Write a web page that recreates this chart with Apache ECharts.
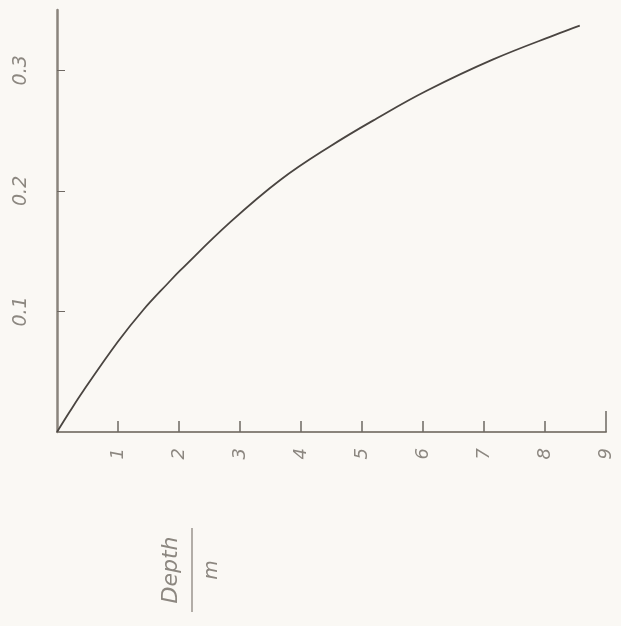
<!DOCTYPE html>
<html>
<head>
<meta charset="utf-8">
<script src="https://cdn.jsdelivr.net/npm/echarts@6/dist/echarts.min.js"></script>
<style>
  html, body { margin: 0; padding: 0; background: #faf8f4; }
  #main { width: 621px; height: 626px; }
</style>
</head>
<body>
<div id="main"></div>
<script>
// depth (m)
const depth = [0, 0.21, 0.43, 1.0, 1.41, 1.83, 2.02, 2.84, 3.66, 4.48, 5.24, 6.06, 7.15, 8.25, 8.57]
// y values
const value = [0, 0.017, 0.034, 0.075, 0.101, 0.124, 0.134, 0.174, 0.209, 0.237, 0.260, 0.283, 0.309, 0.331, 0.337]
const xTicks = [1, 2, 3, 4, 5, 6, 7, 8, 9]
const yTicks = [0.1, 0.2, 0.3]
const xEndTick = [9]

const pencil = '#4a4541'
const faint = '#8c8780'
const handFont = 'DejaVu Sans'

const myChart = echarts.init(document.getElementById('main'))

const option = {
  backgroundColor: '#faf8f4',
  animation: false,
  grid: {
    left: 57,
    right: 15,
    top: 10,
    bottom: 194
  },
  xAxis: [
    {
      type: 'value',
      min: 0,
      max: 9,
      axisLine: { show: true, onZero: false, lineStyle: { color: '#8a847c', width: 2 } },
      axisTick: {
        show: true,
        inside: true,
        length: 11,
        customValues: xTicks,
        lineStyle: { color: '#6e6862', width: 1.5 }
      },
      axisLabel: {
        show: true,
        customValues: xTicks,
        rotate: 90,
        margin: 16,
        color: faint,
        fontSize: 18,
        fontStyle: 'italic',
        fontFamily: handFont,
        fontWeight: 'lighter'
      },
      splitLine: { show: false }
    },
    {
      // the long closing tick at 9
      type: 'value',
      position: 'bottom',
      min: 0,
      max: 9,
      axisLine: { show: false },
      axisTick: {
        show: true,
        inside: true,
        length: 21,
        customValues: xEndTick,
        lineStyle: { color: '#6e6862', width: 1.5 }
      },
      axisLabel: { show: false },
      splitLine: { show: false }
    }
  ],
  yAxis: {
    type: 'value',
    min: 0,
    max: 0.35,
    axisLine: { show: true, onZero: false, lineStyle: { color: '#8a847c', width: 2.5 } },
    axisTick: {
      show: true,
      inside: true,
      length: 8,
      customValues: yTicks,
      lineStyle: { color: '#6e6862', width: 1 }
    },
    axisLabel: {
      show: true,
      customValues: yTicks,
      rotate: 90,
      margin: 26,
      color: faint,
      fontSize: 19,
      fontStyle: 'italic',
      fontFamily: handFont,
      fontWeight: 'lighter',
      formatter: v => v.toFixed(1)
    },
    splitLine: { show: false }
  },
  graphic: [
    {
      type: 'group',
      x: 186,
      y: 570,
      rotation: Math.PI / 2,
      children: [
        {
          type: 'text',
          style: {
            text: 'Depth',
            x: 0,
            y: -4,
            align: 'center',
            verticalAlign: 'bottom',
            fill: faint,
            font: 'italic 22px "DejaVu Sans"'
          }
        },
        {
          type: 'line',
          shape: { x1: -42, y1: 6, x2: 42, y2: 6 },
          style: { stroke: '#9a958e', lineWidth: 1.5 }
        },
        {
          type: 'text',
          style: {
            text: 'm',
            x: 0,
            y: 16,
            align: 'center',
            verticalAlign: 'top',
            fill: faint,
            font: 'italic 20px "DejaVu Sans"'
          }
        }
      ]
    }
  ],
  series: [
    {
      type: 'line',
      smooth: 0.4,
      symbol: 'none',
      lineStyle: { color: pencil, width: 1.8 },
      data: depth.map((d, i) => [d, value[i]])
    }
  ]
}

myChart.setOption(option)
</script>
</body>
</html>
